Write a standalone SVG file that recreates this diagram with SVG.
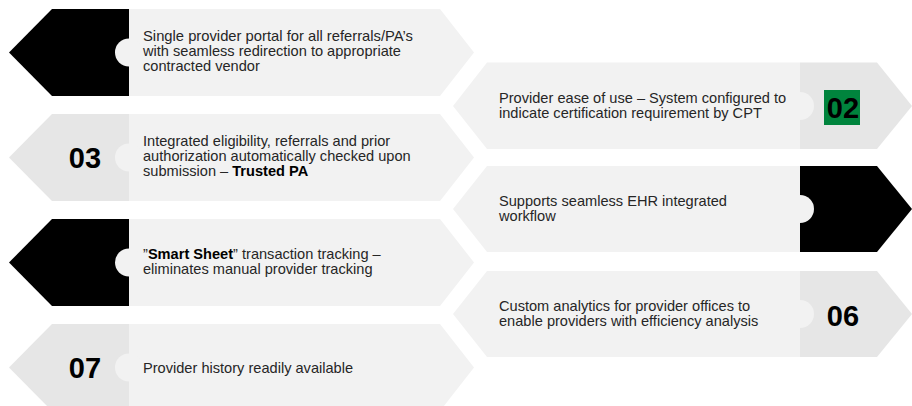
<svg xmlns="http://www.w3.org/2000/svg" width="912" height="406" viewBox="0 0 912 406">
  <style>
    .light { fill: #f2f2f2; }
    .dark { fill: #e6e6e6; }
    .black { fill: #000000; }
    .txt { font-family: "Liberation Sans", Arial, sans-serif; font-size: 14.6px; fill: #262626; }
    .num { font-family: "Liberation Sans", Arial, sans-serif; font-size: 29px; font-weight: bold; fill: #000000; text-anchor: middle; }
    .b { font-weight: bold; fill: #000000; }
  </style>
  <rect width="912" height="406" fill="#ffffff"/>

  <!-- left column: tab on the left, body to the right -->
  <g id="item-01">
    <polygon class="black" points="52,9 129,9 129,96 52,96 9,52.5"/>
    <polygon class="light" points="129,9 440,9 474,52.5 440,96 129,96"/>
    <circle class="light" cx="129" cy="52.5" r="14"/>
    <text class="txt" x="143" y="41" textLength="270" lengthAdjust="spacingAndGlyphs">Single provider portal for all referrals/PA’s</text>
    <text class="txt" x="143" y="56">with seamless redirection to appropriate</text>
    <text class="txt" x="143" y="71">contracted vendor</text>
  </g>

  <g id="item-03">
    <polygon class="dark" points="52,114 129,114 129,201 52,201 9,157.5"/>
    <polygon class="light" points="129,114 440,114 474,157.5 440,201 129,201"/>
    <circle class="light" cx="129" cy="157.5" r="14"/>
    <text class="num" x="85" y="167.5">03</text>
    <text class="txt" x="143" y="146">Integrated eligibility, referrals and prior</text>
    <text class="txt" x="143" y="161">authorization automatically checked upon</text>
    <text class="txt" x="143" y="176">submission – <tspan class="b">Trusted PA</tspan></text>
  </g>

  <g id="item-05">
    <polygon class="black" points="52,219 129,219 129,306 52,306 9,262.5"/>
    <polygon class="light" points="129,219 440,219 474,262.5 440,306 129,306"/>
    <circle class="light" cx="129" cy="262.5" r="14"/>
    <text class="txt" x="143" y="259">”<tspan class="b">Smart Sheet</tspan>” transaction tracking –</text>
    <text class="txt" x="143" y="274">eliminates manual provider tracking</text>
  </g>

  <g id="item-07">
    <polygon class="dark" points="52,324 129,324 129,411 52,411 9,367.5"/>
    <polygon class="light" points="129,324 440,324 474,367.5 440,411 129,411"/>
    <circle class="light" cx="129" cy="367.5" r="14"/>
    <text class="num" x="85" y="378">07</text>
    <text class="txt" x="143" y="372.5">Provider history readily available</text>
  </g>

  <!-- right column: body on the left, tab on the right -->
  <g id="item-02">
    <polygon class="light" points="453,106 487,62.5 800,62.5 800,149 487,149"/>
    <polygon class="dark" points="800,62.5 877,62.5 912,106 877,149 800,149"/>
    <circle class="light" cx="800" cy="106" r="14"/>
    <rect x="824" y="90" width="36" height="35" fill="#00843d"/>
    <text class="num" x="843" y="117.5">02</text>
    <text class="txt" x="499" y="103">Provider ease of use – System configured to</text>
    <text class="txt" x="499" y="118">indicate certification requirement by CPT</text>
  </g>

  <g id="item-04">
    <polygon class="light" points="453,209 487,166 800,166 800,252 487,252"/>
    <polygon class="black" points="800,166 877,166 912,209 877,252 800,252"/>
    <circle class="light" cx="800" cy="209" r="14"/>
    <text class="txt" x="499" y="206">Supports seamless EHR integrated</text>
    <text class="txt" x="499" y="221">workflow</text>
  </g>

  <g id="item-06">
    <polygon class="light" points="453,314 487,271 800,271 800,357 487,357"/>
    <polygon class="dark" points="800,271 877,271 912,314 877,357 800,357"/>
    <circle class="light" cx="800" cy="314" r="14"/>
    <text class="num" x="843" y="326">06</text>
    <text class="txt" x="499" y="311">Custom analytics for provider offices to</text>
    <text class="txt" x="499" y="326">enable providers with efficiency analysis</text>
  </g>
</svg>
